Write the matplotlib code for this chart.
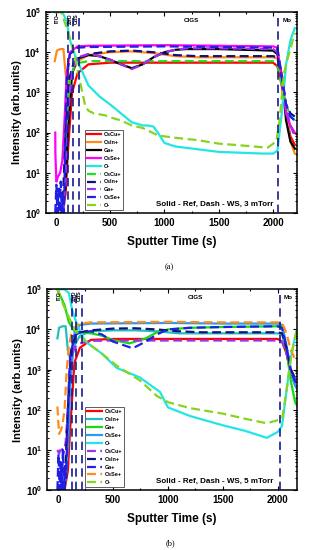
import matplotlib
matplotlib.use("Agg")
import matplotlib.pyplot as plt
from matplotlib.ticker import LogLocator, NullFormatter, MultipleLocator

plt.rcParams['font.family'] = 'Liberation Sans'
plt.rcParams['font.weight'] = 'bold'
plt.rcParams['mathtext.fontset'] = 'custom'
plt.rcParams['mathtext.rm'] = 'Liberation Sans:bold'
plt.rcParams['mathtext.bf'] = 'Liberation Sans:bold'
plt.rcParams['mathtext.default'] = 'bf'

# ---------------- (a) 3 mTorr ----------------
# solid = Ref
a_cscu_t = [0, 60, 90, 110, 150, 200, 300, 500, 1000, 1500, 2000, 2040, 2080, 2120, 2160, 2200]
a_cscu_v = [1, 1, 3, 30, 1000, 3000, 5000, 5500, 5500, 5500, 5500, 4500, 1500, 300, 80, 50]
a_csin_t = [-10, 10, 40, 70, 90, 110, 150, 200, 300, 500, 700, 900, 1100, 1300, 2000, 2040, 2080, 2120, 2160, 2200]
a_csin_v = [6000, 11000, 12000, 12000, 3000, 1500, 3000, 6000, 8500, 10000, 10500, 9500, 8000, 7500, 7500, 7000, 3000, 300, 60, 30]
a_ga_t = [60, 90, 110, 150, 200, 300, 400, 500, 600, 700, 800, 900, 1000, 1100, 1200, 1500, 2000, 2040, 2080, 2120, 2160, 2200]
a_ga_v = [1, 5, 100, 3000, 7000, 8500, 8000, 6500, 5000, 4000, 5000, 7500, 10000, 11500, 12000, 12000, 11000, 9000, 2500, 200, 60, 40]
a_csse_t = [-5, -4, 5, 20, 40, 60, 80, 100, 130, 200, 300, 1000, 1500, 2000, 2040, 2080, 2120, 2160, 2200]
a_csse_v = [100, 30, 6, 8, 10, 20, 200, 3000, 10000, 14000, 14500, 15000, 14500, 14000, 13000, 2000, 300, 150, 100]
a_o_t = [-10, 60, 100, 130, 180, 250, 300, 400, 500, 600, 700, 800, 850, 900, 950, 1000, 1100, 1500, 1900, 2000, 2040, 2080, 2120, 2160, 2200]
a_o_v = [100000, 100000, 60000, 20000, 8000, 3000, 1500, 800, 500, 300, 180, 150, 150, 140, 90, 55, 45, 33, 30, 30, 35, 300, 5000, 20000, 40000]
# dashed = WS
a_cscu_ws_t = [80, 100, 130, 170, 220, 300, 500, 1000, 1500, 2000, 2040, 2080, 2120, 2160, 2200]
a_cscu_ws_v = [30, 300, 2000, 4500, 5500, 6000, 6000, 6000, 6000, 6000, 5000, 1500, 500, 250, 200]
a_csin_ws_t = [60, 90, 120, 160, 200, 300, 500, 700, 900, 1100, 1300, 2000, 2040, 2080, 2120, 2160, 2200]
a_csin_ws_v = [1, 100, 2000, 5000, 7000, 9000, 10500, 11000, 10000, 8500, 8000, 8000, 7500, 2500, 500, 300, 250]
a_ga_ws_t = [60, 90, 110, 150, 200, 300, 400, 500, 600, 700, 800, 900, 1000, 1100, 1200, 1500, 2000, 2040, 2080, 2120, 2160, 2200]
a_ga_ws_v = [1, 5, 200, 3500, 7500, 9000, 8000, 6500, 5000, 3800, 5000, 7500, 10000, 11500, 12500, 12500, 12000, 10000, 3000, 400, 150, 80]
a_csse_ws_t = [-5, 5, 15, 25, 35, 45, 55, 65, 75, 85, 100, 130, 200, 300, 1000, 1500, 2000, 2040, 2080, 2120, 2160, 2200]
a_csse_ws_v = [1, 5, 1, 4, 1, 6, 1, 3, 1, 30, 2000, 9000, 13000, 13500, 14000, 13500, 13000, 12500, 2500, 500, 250, 200]
a_o_ws_t = [-10, 50, 100, 150, 190, 230, 270, 300, 350, 450, 500, 600, 700, 800, 940, 1080, 1300, 1500, 1700, 1950, 2030, 2060, 2100, 2150, 2200]
a_o_ws_v = [100000, 100000, 40000, 15000, 5000, 1500, 470, 350, 300, 270, 240, 200, 150, 130, 85, 75, 65, 53, 48, 42, 60, 200, 3000, 10000, 30000]
a_lines = [110, 157, 212, 2046]

# ---------------- (b) 5 mTorr ----------------
b_cscu_t = [60, 90, 110, 150, 200, 300, 500, 1000, 1500, 2000, 2040, 2080, 2120, 2160, 2200]
b_cscu_v = [1, 3, 30, 1500, 3500, 5500, 5800, 5800, 5800, 5800, 5000, 2500, 800, 400, 300]
b_csin_t = [-5, 10, 40, 70, 90, 110, 150, 200, 300, 500, 700, 900, 1100, 1300, 2000, 2040, 2080, 2120, 2160, 2200]
b_csin_v = [6000, 11000, 12000, 12000, 3000, 2000, 4000, 7000, 9000, 9500, 9500, 9000, 8000, 8000, 8000, 7500, 3000, 800, 400, 300]
b_ga_t = [-5, 60, 100, 150, 200, 300, 400, 500, 650, 800, 900, 1000, 1200, 1500, 2000, 2040, 2080, 2120, 2160, 2200]
b_ga_v = [100000, 40000, 15000, 9000, 8500, 8000, 7000, 5500, 4500, 6000, 8500, 10000, 11000, 11500, 12000, 11000, 3000, 500, 150, 100]
b_csse_t = [60, 90, 110, 150, 200, 300, 1000, 1500, 2000, 2040, 2080, 2120, 2160, 2200]
b_csse_v = [1, 10, 300, 8000, 13000, 14000, 14500, 14000, 14000, 13000, 4000, 1000, 400, 250]
b_o_t = [-10, 60, 100, 130, 180, 250, 400, 535, 745, 930, 1000, 1200, 1500, 1700, 1900, 2000, 2040, 2080, 2120, 2160, 2200]
b_o_v = [100000, 100000, 80000, 30000, 12000, 5000, 2500, 1100, 640, 275, 115, 70, 41, 30, 20, 28, 40, 300, 2000, 7000, 15000]
b_cscu_ws_t = [-5, 10, 30, 50, 70, 90, 110, 150, 200, 300, 500, 1000, 1500, 2000, 2040, 2080, 2120, 2160, 2200]
b_cscu_ws_v = [10, 8, 12, 8, 15, 100, 1500, 3500, 4500, 5200, 5300, 5300, 5300, 5300, 5000, 2500, 900, 600, 500]
b_csin_ws_t = [60, 90, 120, 160, 200, 300, 500, 700, 900, 1100, 1300, 2000, 2040, 2080, 2120, 2160, 2200]
b_csin_ws_v = [1, 100, 3000, 7000, 8500, 9500, 10500, 10700, 10000, 9000, 8500, 8500, 8000, 3500, 1000, 600, 500]
b_ga_ws_t = [-5, 5, 15, 25, 35, 45, 55, 65, 75, 90, 110, 150, 200, 300, 400, 500, 680, 800, 900, 1000, 1200, 1500, 2000, 2040, 2080, 2120, 2160, 2200]
b_ga_ws_v = [1, 8, 1, 5, 1, 10, 1, 4, 2, 100, 2000, 7000, 8500, 9000, 7500, 5000, 3400, 5000, 7500, 10000, 11000, 11500, 12000, 11000, 3500, 900, 500, 400]
b_csse_ws_t = [-5, 10, 25, 40, 60, 80, 100, 130, 200, 300, 1000, 1500, 2000, 2040, 2080, 2120, 2160, 2200]
b_csse_ws_v = [120, 25, 30, 40, 100, 1000, 4000, 10000, 14000, 15000, 15500, 15000, 15000, 14500, 8000, 3000, 1800, 1250]
b_o_ws_t = [-5, 50, 100, 150, 220, 300, 400, 535, 745, 900, 1000, 1200, 1500, 1700, 1900, 2000, 2040, 2080, 2120, 2160, 2200]
b_o_ws_v = [100000, 40000, 20000, 10000, 6000, 4000, 2500, 1250, 540, 220, 155, 110, 80, 60, 46, 55, 60, 300, 2000, 7000, 16000]
b_lines = [127, 164, 218, 2018]

a_series = [
    (a_cscu_t, a_cscu_v, '#FF0000', '-', 'CsCu+'),
    (a_csin_t, a_csin_v, '#FF8C1A', '-', 'CsIn+'),
    (a_ga_t, a_ga_v, '#000000', '-', 'Ga+'),
    (a_csse_t, a_csse_v, '#FF00FF', '-', 'CsSe+'),
    (a_o_t, a_o_v, '#22E5E5', '-', 'O-'),
    (a_cscu_ws_t, a_cscu_ws_v, '#22DD22', '--', 'CsCu+'),
    (a_csin_ws_t, a_csin_ws_v, '#101080', '--', 'CsIn+'),
    (a_ga_ws_t, a_ga_ws_v, '#A030F0', '--', 'Ga+'),
    (a_csse_ws_t, a_csse_ws_v, '#1F1FE6', '--', 'CsSe+'),
    (a_o_ws_t, a_o_ws_v, '#88D41C', '--', 'O-'),
]
b_series = [
    (b_cscu_t, b_cscu_v, '#FF0000', '-', 'CsCu+'),
    (b_csin_t, b_csin_v, '#22BFBF', '-', 'CsIn+'),
    (b_ga_t, b_ga_v, '#11DD11', '-', 'Ga+'),
    (b_csse_t, b_csse_v, '#2A9BF0', '-', 'CsSe+'),
    (b_o_t, b_o_v, '#22E5E5', '-', 'O-'),
    (b_cscu_ws_t, b_cscu_ws_v, '#A030F0', '--', 'CsCu+'),
    (b_csin_ws_t, b_csin_ws_v, '#101080', '--', 'CsIn+'),
    (b_ga_ws_t, b_ga_ws_v, '#1F1FE6', '--', 'Ga+'),
    (b_csse_ws_t, b_csse_ws_v, '#FF8C1A', '--', 'CsSe+'),
    (b_o_ws_t, b_o_ws_v, '#88D41C', '--', 'O-'),
]

fig = plt.figure(figsize=(3.09, 5.50), dpi=100)
ax_a = fig.add_axes([0.149, 0.613, 0.812, 0.365])
ax_b = fig.add_axes([0.152, 0.109, 0.809, 0.365])


def draw(ax, series, lines, xlim, note):
    for t, v, c, ls, lab in series:
        if ls == '--':
            ax.plot(t, v, color=c, lw=1.6, dashes=(4, 2), label=lab)
        else:
            ax.plot(t, v, color=c, lw=1.6, label=lab)
    for x in lines:
        ax.axvline(x, color='#1a1a8c', lw=1.2, dashes=(5, 3), zorder=5)
    ax.set_yscale('log')
    ax.set_ylim(1, 1e5)
    ax.set_xlim(*xlim)
    ax.set_yticks([1, 10, 100, 1000, 1e4, 1e5])
    ax.set_yticklabels([r'$10^{%d}$' % i for i in range(6)])
    ax.yaxis.set_minor_locator(LogLocator(base=10, subs=range(2, 10), numticks=20))
    ax.yaxis.set_minor_formatter(NullFormatter())
    ax.xaxis.set_major_locator(MultipleLocator(500))
    ax.xaxis.set_minor_locator(MultipleLocator(250))
    ax.tick_params(which='both', direction='in', top=True, right=True, labelsize=7, width=0.8)
    ax.tick_params(which='major', length=3)
    ax.tick_params(which='minor', length=1.5)
    for s in ax.spines.values():
        s.set_linewidth(1.1)
    for lab in ax.get_xticklabels():
        lab.set_fontweight('bold')
    ax.set_xlabel('Sputter Time (s)', fontsize=8.5, fontweight='bold', labelpad=6)
    ax.set_ylabel('Intensity (arb.units)', fontsize=8, fontweight='bold', labelpad=2)
    leg = ax.legend(loc='lower left', bbox_to_anchor=(0.143, 0.0), fontsize=4, ncol=1,
                    handlelength=2.6, handletextpad=0.5, labelspacing=0.52,
                    borderpad=0.35, frameon=True, fancybox=False, framealpha=1)
    leg.get_frame().set_edgecolor('#444444')
    leg.get_frame().set_linewidth(0.6)
    ax.text(0.905, 0.025, note, transform=ax.transAxes, ha='right', va='bottom',
            fontsize=5.8, fontweight='bold', zorder=6)
    # layer labels
    ax.text(15, 7e4, 'ITO', rotation=90, fontsize=3.8, ha='center', va='center', zorder=6)
    ax.text((lines[0] + lines[1]) / 2, 7e4, 'ZnO', rotation=90, fontsize=3.8, ha='center', va='center', zorder=6)
    ax.text((lines[1] + lines[2]) / 2, 7e4, 'CdS', rotation=90, fontsize=3.8, ha='center', va='center', zorder=6)
    ax.text(1250, 6.2e4, 'CIGS', fontsize=4.5, ha='center', va='center', zorder=6)
    ax.text((lines[3] + xlim[1]) / 2, 6.2e4, 'Mo', fontsize=4.5, ha='center', va='center', zorder=6)


draw(ax_a, a_series, a_lines, (-90, 2220), 'Solid - Ref, Dash - WS, 3 mTorr')
draw(ax_b, b_series, b_lines, (-100, 2175), 'Solid - Ref, Dash - WS, 5 mTorr')

fig.text(0.547, 1 - 267 / 550, '(a)', fontsize=6, family='Liberation Serif', ha='center', va='center', fontweight='normal')
fig.text(0.55, 1 - 543 / 550, '(b)', fontsize=6, family='Liberation Serif', ha='center', va='center', fontweight='normal')

fig.savefig('out.png', dpi=100)
